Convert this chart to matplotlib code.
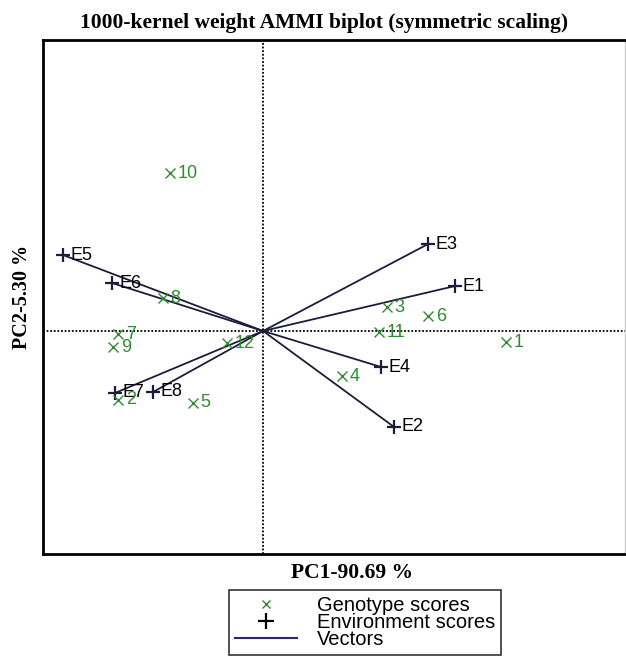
import matplotlib
matplotlib.use('Agg')
import matplotlib.pyplot as plt
from matplotlib.lines import Line2D

# genotype scores (PC1, PC2)
gen_names = ['1', '2', '3', '4', '5', '6', '7', '8', '9', '10', '11', '12']
gen_pc1 = [2.43, -1.45, 1.24, 0.79, -0.70, 1.65, -1.45, -1.00, -1.50, -0.93, 1.16, -0.36]
gen_pc2 = [-0.11, -0.69, 0.24, -0.45, -0.72, 0.15, -0.03, 0.33, -0.16, 1.58, -0.01, -0.12]

# environment scores (PC1, PC2)
env_names = ['E1', 'E2', 'E3', 'E4', 'E5', 'E6', 'E7', 'E8']
env_pc1 = [1.92, 1.31, 1.65, 1.18, -2.00, -1.51, -1.48, -1.10]
env_pc2 = [0.45, -0.96, 0.87, -0.36, 0.76, 0.48, -0.62, -0.61]

green = '#2e8b2e'
navy = '#1c1c3c'

fig = plt.figure(figsize=(6.26, 6.56), dpi=100)
ax = fig.add_axes([0.0687, 0.1555, 0.93, 0.7835])

# dotted lines through the origin
ax.axhline(0, color='black', ls=(0, (1, 1)), lw=1.3, zorder=1)
ax.axvline(0, color='black', ls=(0, (1, 1)), lw=1.3, zorder=1)

# vectors
for x, y in zip(env_pc1, env_pc2):
    ax.plot([0, x], [0, y], color=navy, lw=1.3, zorder=2)

ax.plot(env_pc1, env_pc2, ls='none', marker='+', ms=9.5, mew=1.6, color=navy, zorder=3)
for n, x, y in zip(env_names, env_pc1, env_pc2):
    ax.annotate(n, (x, y), xytext=(5.5, 0), textcoords='offset points',
                ha='left', va='center', fontsize=13, color='black',
                family='Liberation Sans', zorder=4)

ax.plot(gen_pc1, gen_pc2, ls='none', marker='x', ms=7, mew=1.0, color=green, zorder=3)
for n, x, y in zip(gen_names, gen_pc1, gen_pc2):
    ax.annotate(n, (x, y), xytext=(5.5, 0), textcoords='offset points',
                ha='left', va='center', fontsize=13, color=green,
                family='Liberation Sans', zorder=4)

ax.set_xlim(-2.20, 3.62)
ax.set_ylim(-2.23, 2.91)
ax.set_xticks([])
ax.set_yticks([])
for s in ['left', 'top', 'bottom']:
    ax.spines[s].set_linewidth(2)
ax.spines['right'].set_color('#cccccc')
ax.spines['right'].set_linewidth(1)

ax.set_title('1000-kernel weight AMMI biplot (symmetric scaling)', x=0.483,
             family='Liberation Serif', fontweight='bold', fontsize=15.5, pad=9)
ax.set_xlabel('PC1-90.69 %', family='Liberation Serif', fontweight='bold', fontsize=15.5)
ax.xaxis.set_label_coords(0.531, -0.018)
ax.set_ylabel('PC2-5.30 %', family='Liberation Serif', fontweight='bold',
              fontsize=14.5, labelpad=8)

handles = [
    Line2D([], [], ls='none', marker='x', ms=6, mew=1, color=green),
    Line2D([], [], ls='none', marker='+', ms=11, mew=1.6, color='black'),
    Line2D([], [], color='#2a2a6a', lw=1.5),
]
labels = ['Genotype scores', 'Environment scores', 'Vectors']
leg = fig.legend(handles, labels, loc='upper center', bbox_to_anchor=(0.583, 0.1006),
                 prop={'family': 'Liberation Sans', 'size': 14.5}, frameon=True,
                 fancybox=False, edgecolor='black', handlelength=3.1,
                 labelspacing=-0.1, borderpad=0.3, handletextpad=1.0,
                 borderaxespad=0)
leg.get_frame().set_linewidth(1.2)

fig.savefig('out.png', dpi=100)
